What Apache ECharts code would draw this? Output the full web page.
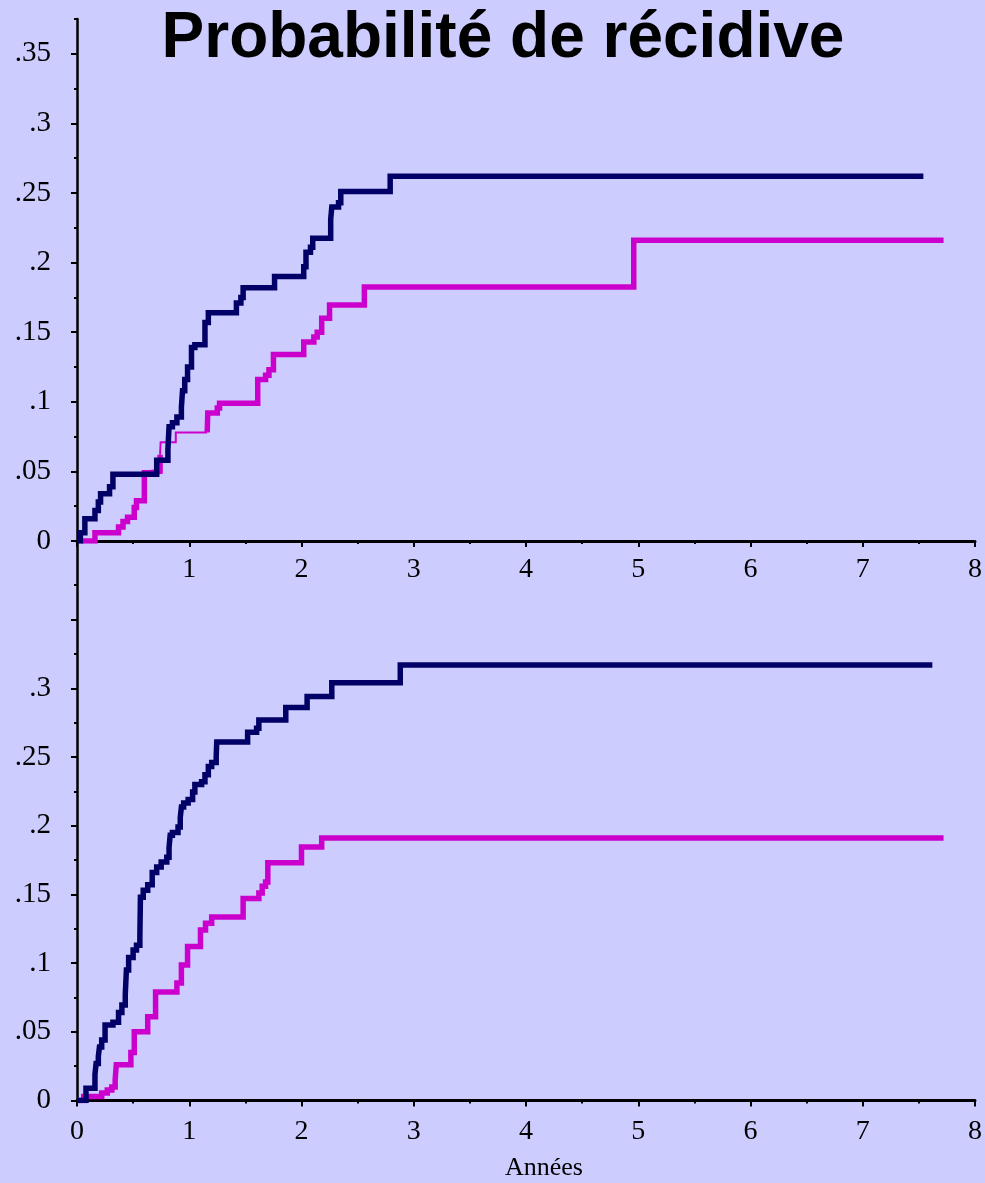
<!DOCTYPE html>
<html>
<head>
<meta charset="utf-8">
<script src="https://cdn.jsdelivr.net/npm/echarts@6/dist/echarts.min.js"></script>
<style>
  html, body { margin: 0; padding: 0; background: #ccccff; }
  #chart { width: 985px; height: 1183px; }
</style>
</head>
<body>
<div id="chart"></div>
<script>
// Axis ticks and labels
const xTickValues = [0, 1, 2, 3, 4, 5, 6, 7, 8];
const yMajorTop = [0, 0.05, 0.1, 0.15, 0.2, 0.25, 0.3, 0.35];
const yMajorBottom = [0, 0.05, 0.1, 0.15, 0.2, 0.25, 0.3, 0.35];
const yLabelsTop = [0, 0.05, 0.1, 0.15, 0.2, 0.25, 0.3, 0.35];
const yLabelsBottom = [0, 0.05, 0.1, 0.15, 0.2, 0.25, 0.3];
const yMinor = [0.025, 0.075, 0.125, 0.175, 0.225, 0.275, 0.325, 0.375];

// Cumulative recurrence curves: [years, probability after the step]
const navyTop = [
  [0, 0], [0.03, 0.006], [0.07, 0.016], [0.16, 0.022], [0.19, 0.028], [0.21, 0.034],
  [0.29, 0.039], [0.32, 0.048], [0.71, 0.058], [0.81, 0.066], [0.82, 0.082], [0.85, 0.085],
  [0.89, 0.089], [0.93, 0.096], [0.94, 0.108], [0.96, 0.116], [0.985, 0.125], [1.02, 0.139],
  [1.05, 0.141], [1.14, 0.157], [1.17, 0.164], [1.42, 0.171], [1.46, 0.175], [1.48, 0.182],
  [1.76, 0.190], [2.02, 0.197], [2.04, 0.2075], [2.08, 0.211], [2.10, 0.2175], [2.26, 0.231],
  [2.27, 0.240], [2.33, 0.243], [2.35, 0.251], [2.79, 0.262], [7.54, 0.262]
];
const magentaTop = [
  [0.04, 0], [0.16, 0.006], [0.37, 0.010], [0.41, 0.014], [0.45, 0.017], [0.51, 0.024],
  [0.53, 0.029], [0.60, 0.049], [0.65, 0.050], [0.74, 0.062], [0.745, 0.071], [0.88, 0.078],
  [1.16, 0.078], [1.165, 0.092], [1.25, 0.0955], [1.27, 0.099], [1.61, 0.116], [1.68, 0.119],
  [1.71, 0.123], [1.75, 0.134], [2.02, 0.143], [2.11, 0.1465], [2.14, 0.150], [2.18, 0.160],
  [2.25, 0.1695], [2.56, 0.1825], [4.96, 0.216], [7.72, 0.216]
];
// stretch of the magenta top curve drawn with a thin stroke
const magentaTopThin = [0.74, 1.16];

const navyBottom = [
  [0, 0], [0.08, 0.009], [0.16, 0.019], [0.17, 0.027], [0.19, 0.032], [0.20, 0.039],
  [0.22, 0.044], [0.25, 0.055], [0.32, 0.057], [0.37, 0.064], [0.40, 0.0695], [0.43, 0.077],
  [0.44, 0.095], [0.46, 0.104], [0.50, 0.1095], [0.53, 0.113], [0.56, 0.119], [0.565, 0.148],
  [0.59, 0.153], [0.63, 0.157], [0.67, 0.166], [0.71, 0.170], [0.75, 0.1736], [0.80, 0.177],
  [0.82, 0.184], [0.83, 0.193], [0.85, 0.195], [0.90, 0.199], [0.92, 0.206], [0.93, 0.2136],
  [0.95, 0.2165], [0.99, 0.219], [1.03, 0.2245], [1.05, 0.230], [1.11, 0.232], [1.14, 0.237],
  [1.17, 0.243], [1.20, 0.246], [1.24, 0.250], [1.245, 0.261], [1.52, 0.268], [1.60, 0.271],
  [1.62, 0.277], [1.86, 0.286], [2.05, 0.294], [2.27, 0.304], [2.88, 0.317], [7.62, 0.317]
];
const magentaBottom = [
  [0, 0], [0.06, 0.003], [0.22, 0.0055], [0.27, 0.0076], [0.31, 0.0098], [0.34, 0.015],
  [0.35, 0.026], [0.48, 0.035], [0.51, 0.050], [0.63, 0.061], [0.70, 0.079], [0.89, 0.0855],
  [0.93, 0.0986], [0.985, 0.112], [1.10, 0.124], [1.145, 0.129], [1.20, 0.1335], [1.48, 0.147],
  [1.62, 0.151], [1.65, 0.156], [1.68, 0.159], [1.70, 0.173], [2.00, 0.1845], [2.18, 0.191],
  [7.72, 0.191]
];

const NAVY = '#000066';
const MAGENTA = '#cc00cc';
const SERIF = 'Liberation Serif';

const fmtY = v => (Math.abs(v) < 1e-9 ? '0' : String(+v.toFixed(3)).replace(/^0\./, '.'));

function xAxis(gridIndex, showZero, margin) {
  return {
    type: 'value', gridIndex, min: 0, max: 8, interval: 1,
    axisLine: { show: true, onZero: false, lineStyle: { color: '#000', width: 3 } },
    axisTick: { show: true, inside: false, length: 6, lineStyle: { color: '#000', width: 2 } },
    minorTick: { show: true, splitNumber: 2, length: 3, lineStyle: { color: '#000', width: 2 } },
    splitLine: { show: false },
    axisLabel: {
      show: true, margin, color: '#000', fontFamily: SERIF, fontSize: 28,
      showMinLabel: true, showMaxLabel: true,
      formatter: v => (v === 0 && !showZero ? '' : String(v))
    }
  };
}

function yMajorAxis(gridIndex, min, max, ticks, labels) {
  return {
    type: 'value', gridIndex, min, max,
    axisLine: { show: true, onZero: false, lineStyle: { color: '#000', width: 2.5 } },
    axisTick: { show: true, inside: false, length: 6, customValues: ticks, lineStyle: { color: '#000', width: 2 } },
    splitLine: { show: false },
    axisLabel: {
      show: true, margin: 26, color: '#000', fontFamily: SERIF, fontSize: 29,
      customValues: labels, formatter: fmtY
    }
  };
}

function yMinorAxis(gridIndex, min, max) {
  return {
    type: 'value', gridIndex, min, max, position: 'left',
    axisLine: { show: false },
    axisTick: { show: true, inside: false, length: 3, customValues: yMinor, lineStyle: { color: '#000', width: 2 } },
    splitLine: { show: false },
    axisLabel: { show: false }
  };
}

function stepLine(data, color, width, xi, yi, z) {
  return {
    type: 'line', step: 'end', data, xAxisIndex: xi, yAxisIndex: yi,
    showSymbol: false, symbol: 'none', z,
    lineStyle: { color, width, cap: 'butt', join: 'miter' },
    silent: true
  };
}

const [thinFrom, thinTo] = magentaTopThin;
const magentaTopA = magentaTop.filter(p => p[0] <= thinFrom);
const magentaTopThinPart = magentaTop.filter(p => p[0] >= thinFrom && p[0] <= thinTo);
const magentaTopB = magentaTop.filter(p => p[0] >= thinTo);

// lower panel's vertical axis runs up to the upper panel's baseline
const bottomYMax = 0.4072;

const chart = echarts.init(document.getElementById('chart'), null, { renderer: 'canvas' });
chart.setOption({
  backgroundColor: '#ccccff',
  animation: false,
  grid: [
    { left: 77, right: 6, top: 19, bottom: 642, containLabel: false },
    { left: 77, right: 6, top: 541, bottom: 82.5, containLabel: false }
  ],
  xAxis: [xAxis(0, false, 15), xAxis(1, true, 17)],
  yAxis: [
    yMajorAxis(0, 0, 0.375, yMajorTop, yLabelsTop),
    yMinorAxis(0, 0, 0.375),
    yMajorAxis(1, 0, bottomYMax, yMajorBottom, yLabelsBottom),
    yMinorAxis(1, 0, bottomYMax)
  ],
  series: [
    stepLine(magentaTopA, MAGENTA, 5.5, 0, 0, 2),
    stepLine(magentaTopThinPart, MAGENTA, 2, 0, 0, 2),
    stepLine(magentaTopB, MAGENTA, 5.5, 0, 0, 2),
    stepLine(navyTop, NAVY, 5.5, 0, 0, 3),
    stepLine(magentaBottom, MAGENTA, 5.5, 1, 2, 2),
    stepLine(navyBottom, NAVY, 5.5, 1, 2, 3)
  ],
  graphic: [
    {
      type: 'text', x: 503, y: 39, z: 10,
      style: {
        text: 'Probabilité de récidive', fill: '#000',
        font: 'bold 64px "Liberation Sans", Arial, sans-serif',
        textAlign: 'center', textVerticalAlign: 'middle'
      }
    },
    {
      type: 'text', x: 544, y: 1168, z: 10,
      style: {
        text: 'Années', fill: '#000',
        font: '26px "Liberation Serif", "Times New Roman", serif',
        textAlign: 'center', textVerticalAlign: 'middle'
      }
    }
  ]
});
</script>
</body>
</html>
